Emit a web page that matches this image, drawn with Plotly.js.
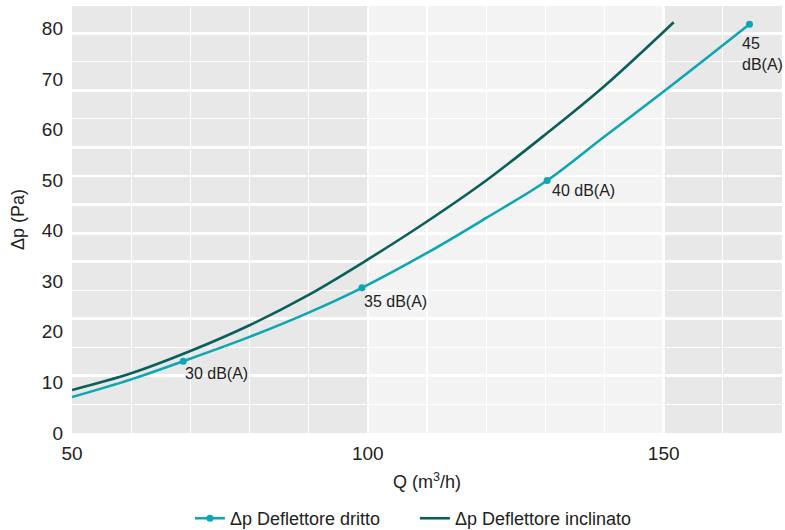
<!DOCTYPE html>
<html><head><meta charset="utf-8">
<script src="https://cdn.plot.ly/plotly-3.0.1.min.js"></script>
<style>html,body{margin:0;padding:0;background:#fff}#chart{width:785px;height:530px}</style>
</head><body><div id="chart"></div>
<script>
// Data
const drittoQ = [50, 60, 68.8, 80, 90, 99, 110, 120, 130.3, 140, 150, 164.5];
const drittoDp = [7.1, 10.6, 14.2, 19.0, 23.8, 28.7, 35.6, 42.5, 49.9, 58.6, 67.5, 80.8];
const inclinatoQ = [50, 60, 70, 80, 90, 100, 110, 120, 130, 140, 151.7];
const inclinatoDp = [8.5, 11.8, 16.2, 21.3, 27.3, 34.3, 41.8, 49.9, 59.0, 68.6, 81.2];
const noiseQ = [68.8, 99, 130.3, 164.5];
const noiseDp = [14.2, 28.7, 49.9, 80.8];
const noiseLabels = ['30 dB(A)', '35 dB(A)', '40 dB(A)', '45<br>dB(A)'];
const xTicks = [50, 100, 150];
const yTicks = [0, 10, 20, 30, 40, 50, 60, 70, 80];
const bandEdges = [50, 100, 150, 170];
const bandColors = ['#e8e8e8', '#f3f3f3', '#e8e8e8'];
const seriesNames = ['Δp Deflettore dritto', 'Δp Deflettore inclinato'];

// styling
const cDritto = '#0fa6b3';
const cIncl = '#0a5f5b';
const font = 'Liberation Sans, Arial, sans-serif';
const labelShift = [[0, -2], [0, -3], [3, 1], [-9, -9]];

// marker trace with gaps (legend shows line + marker, no extra segments drawn)
const mx = [], my = [];
noiseQ.forEach((q, i) => { if (i) { mx.push(null); my.push(null); } mx.push(q); my.push(noiseDp[i]); });

const traces = [
  { x: [bandEdges[0]], y: [0], yaxis: 'y2', type: 'scatter', mode: 'none', showlegend: false, hoverinfo: 'skip' },
  { x: [bandEdges[0]], y: [0], yaxis: 'y3', type: 'scatter', mode: 'none', showlegend: false, hoverinfo: 'skip' },
  { x: drittoQ, y: drittoDp, type: 'scatter', mode: 'lines', line: { color: cDritto, width: 2.6, shape: 'spline', smoothing: 1 }, showlegend: false, hoverinfo: 'skip' },
  { x: mx, y: my, type: 'scatter', mode: 'lines+markers', name: seriesNames[0], connectgaps: false, line: { color: cDritto, width: 2.6 }, marker: { color: cDritto, size: 7 }, legendrank: 1 },
  { x: inclinatoQ, y: inclinatoDp, type: 'scatter', mode: 'lines', name: seriesNames[1], line: { color: cIncl, width: 2.6, shape: 'spline', smoothing: 1 }, legendrank: 2 }
];

const shapes = bandColors.map((c, i) => ({
  type: 'rect', xref: 'x', yref: 'paper', x0: bandEdges[i], x1: bandEdges[i + 1], y0: 0, y1: 1,
  fillcolor: c, line: { width: 0 }, layer: 'below'
}));

const annotations = noiseLabels.map((t, i) => ({
  x: noiseQ[i], y: noiseDp[i], xref: 'x', yref: 'y', text: t, showarrow: false,
  xanchor: 'left', yanchor: 'top', align: 'left', xshift: labelShift[i][0], yshift: labelShift[i][1],
  font: { family: font, size: 16, color: '#222' }
}));

const layout = {
  width: 785, height: 530,
  margin: { l: 72, r: 3, t: 6, b: 97, autoexpand: false },
  paper_bgcolor: '#ffffff', plot_bgcolor: '#ffffff',
  font: { family: font, color: '#222' },
  showlegend: true,
  legend: { orientation: 'h', x: 0.483, xanchor: 'center', y: -0.157, yanchor: 'top', font: { family: font, size: 18, color: '#222' }, itemwidth: 30, tracegroupgap: 0, entrywidth: 180 },
  xaxis: {
    range: [50, 170], tickmode: 'array', tickvals: xTicks, ticks: '', showline: false, zeroline: false,
    showgrid: true, gridcolor: '#ffffff', gridwidth: 2.5, automargin: false,
    minor: { dtick: 10, tick0: 50, showgrid: true, gridcolor: '#ffffff', gridwidth: 1.3, ticks: '' },
    tickfont: { family: font, size: 19, color: '#222' }, ticklabelstandoff: 7,
    title: { text: 'Q (m<sup>3</sup>/h)', font: { family: font, size: 18, color: '#222' }, standoff: 12 },
    fixedrange: true
  },
  yaxis: {
    range: [0, 84.4], tickmode: 'array', tickvals: yTicks, ticks: '', showline: false, zeroline: false, showgrid: false,
    tickfont: { family: font, size: 19, color: '#222' }, ticklabelstandoff: 8, automargin: false,
    title: { text: 'Δp (Pa)', font: { family: font, size: 18, color: '#222' }, standoff: 12 },
    fixedrange: true
  },
  yaxis2: {
    overlaying: 'y', range: [0, 14.95], dtick: 1, showticklabels: false, ticks: '', zeroline: false, showline: false,
    showgrid: true, gridcolor: '#ffffff', gridwidth: 1.3, fixedrange: true, automargin: false
  },
  yaxis3: {
    overlaying: 'y', range: [0, 14.95], tickmode: 'array', tickvals: [2, 4, 6, 7, 8, 10, 12, 14], showticklabels: false, ticks: '', zeroline: false, showline: false,
    showgrid: true, gridcolor: '#ffffff', gridwidth: 3, fixedrange: true, automargin: false
  },
  shapes: shapes,
  annotations: annotations
};

Plotly.newPlot('chart', traces, layout, { displayModeBar: false, staticPlot: true });
</script>
</body></html>
